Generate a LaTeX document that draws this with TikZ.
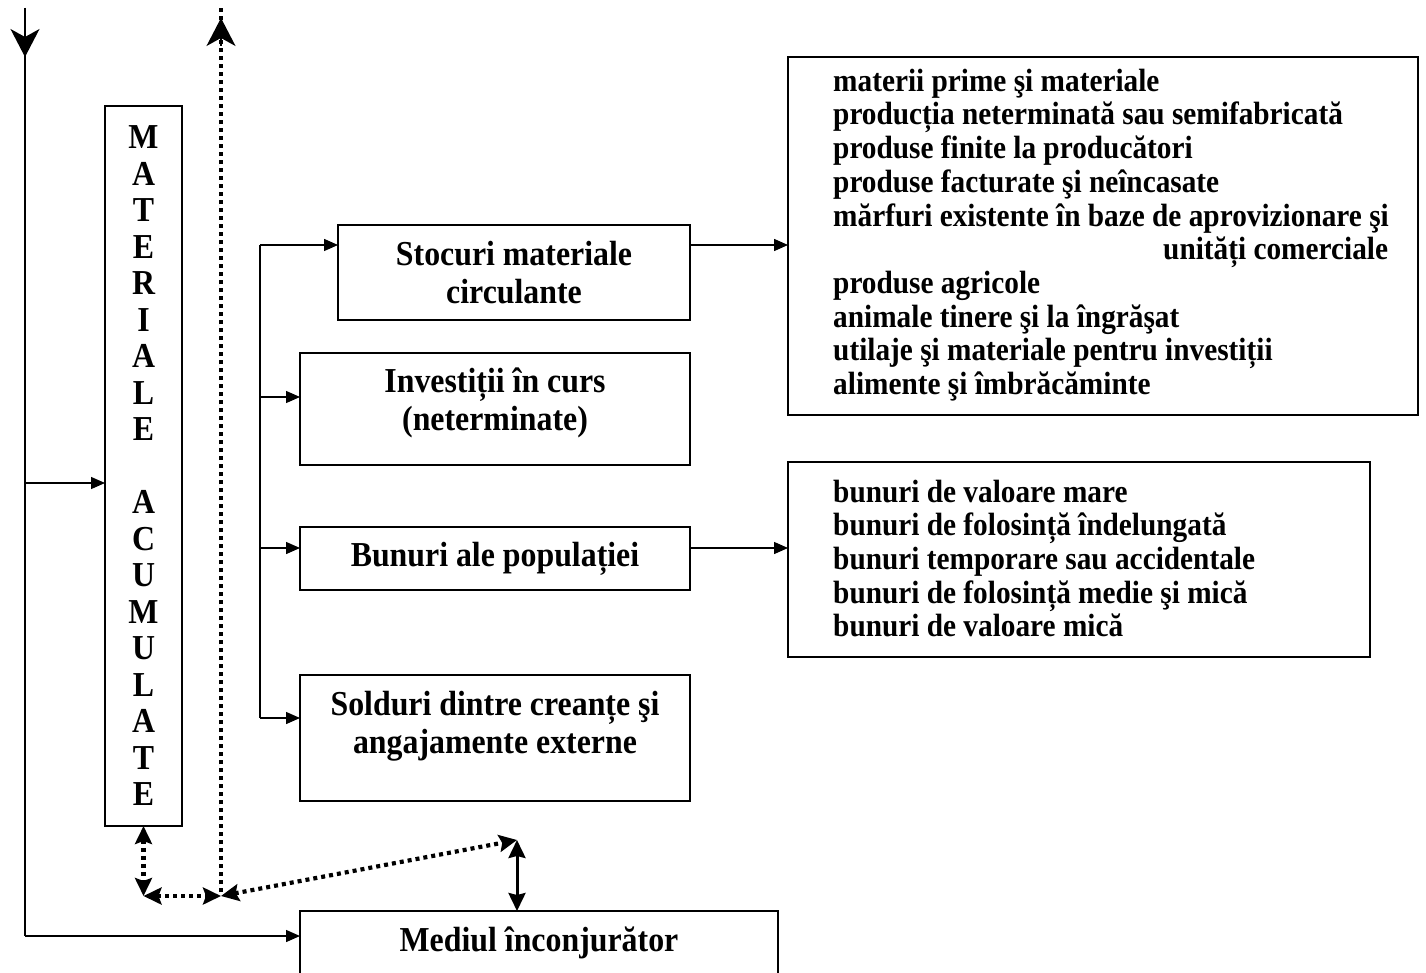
\documentclass[tikz,border=0pt]{standalone}
\usepackage{fontspec}
% slightly condensed Times-like face, set larger so the glyphs come out taller
\setmainfont{Liberation Serif}[FakeStretch=0.91]
\usetikzlibrary{arrows.meta}

\tikzset{
  stip/.tip={Triangle[length=14pt,width=12pt]},
  dtip/.tip={Stealth[length=18pt,width=17pt,inset=3pt]},
  btip/.tip={Stealth[length=28pt,width=29pt,inset=8pt]},
  vtip/.tip={Stealth[length=18pt,width=17pt,inset=2pt]},
}

\begin{document}
\begin{tikzpicture}[x=1pt,y=-1pt,
  box/.style={draw, line width=1.6pt, inner sep=0pt, outer sep=0pt, align=center,
    font=\fontsize{35}{38}\selectfont\bfseries},
  boxtext/.style={inner sep=0pt, align=center, font=\fontsize{35}{38}\selectfont\bfseries},
  listtext/.style={inner sep=0pt, align=left, anchor=west,
    font=\fontsize{32.2}{33.7}\selectfont\bfseries},
  wire/.style={line width=1.4pt},
  conn/.style={wire, -{stip}},
  dots/.style={line width=4.2pt, dash pattern=on 4pt off 4pt, {dtip}-{dtip}},
]
\useasboundingbox (0,0) rectangle (1426,973);

% boxes
\node[box, minimum width=77pt, minimum height=720pt,
      font=\fontsize{35}{36.5}\selectfont\bfseries] (mat) at (143.5,466)
  {M\\A\\T\\E\\R\\I\\A\\L\\E\\~\\A\\C\\U\\M\\U\\L\\A\\T\\E};
\node[box, minimum width=352pt, minimum height=95pt] (sto) at (514,272.5)
  {Stocuri materiale\\circulante};
\node[box, minimum width=390pt, minimum height=112pt] (inv) at (495,409) {};
\node[boxtext] (invt) at (495,403) {Investiții în curs\\(neterminate)};
\node[box, minimum width=390pt, minimum height=63pt] (bun) at (495,558.5)
  {Bunuri ale populației};
\node[box, minimum width=390pt, minimum height=126pt] (sol) at (495,738) {};
\node[boxtext] (solt) at (495,726) {Solduri dintre creanțe şi\\angajamente externe};
\node[box, minimum width=478pt, minimum height=64pt] (med) at (539,943)
  {Mediul înconjurător};
\node[box, minimum width=630pt, minimum height=358pt] (lst1) at (1103,236) {};
\node[box, minimum width=582pt, minimum height=195pt] (lst2) at (1079,559.5) {};

% list contents
\node[listtext] (lt1) at (833,235) {materii prime şi materiale\\
  producția neterminată sau semifabricată\\
  produse finite la producători\\
  produse facturate şi neîncasate\\
  mărfuri existente în baze de aprovizionare şi\\
  \hspace*{330pt}unități comerciale\\
  produse agricole\\
  animale tinere şi la îngrăşat\\
  utilaje şi materiale pentru investiții\\
  alimente şi îmbrăcăminte};
\node[listtext] (lt2) at (833,558.5) {bunuri de valoare mare\\
  bunuri de folosință îndelungată\\
  bunuri temporare sau accidentale\\
  bunuri de folosință medie şi mică\\
  bunuri de valoare mică};

% outer flow (solid, left)
\coordinate (inTop) at (25,8);
\coordinate (inTip) at (25,57);
\coordinate (cornerL) at (25,936);
\coordinate (jMat) at (25,483);
\draw[wire] (inTop) -- (cornerL);
\draw[wire, -{btip}] (inTop) -- (inTip);
\draw[conn] (cornerL) -- (cornerL -| med.west);
\draw[conn] (jMat) -- (jMat -| mat.west);

% branches to the categories
\coordinate (b1) at (260,245);
\coordinate (b2) at (260,397);
\coordinate (b3) at (260,548);
\coordinate (b4) at (260,718);
\draw[wire] (b1) -- (b4);
\draw[conn] (b1) -- (b1 -| sto.west);
\draw[conn] (b2) -- (b2 -| inv.west);
\draw[conn] (b3) -- (b3 -| bun.west);
\draw[conn] (b4) -- (b4 -| sol.west);
\draw[conn] (b1 -| sto.east) -- (b1 -| lst1.west);
\draw[conn] (b3 -| bun.east) -- (b3 -| lst2.west);

% dotted exchanges
\coordinate (pA) at (143.5,896);
\coordinate (pB) at (221,896);
\coordinate (pC) at (517,840);
\coordinate (outTop) at (221,8);
\coordinate (outTip) at (221,18);
\draw[line width=4.2pt, dash pattern=on 4pt off 4pt] ([yshift=4pt]pB) -- (outTop);
\draw[wire, -{btip}] ([yshift=-28pt]outTip) -- (outTip);
\draw[dots] (mat.south) -- (pA);
\draw[dots] (pA) -- (pB);
\draw[dots] (pB) -- (pC);
\draw[line width=3pt, {vtip}-{vtip}] (pC) -- (pC |- med.north);
\end{tikzpicture}
\end{document}
